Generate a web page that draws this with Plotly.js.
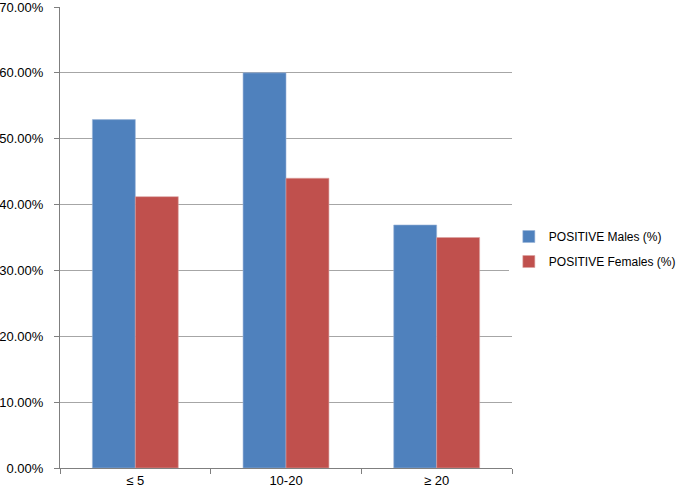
<!DOCTYPE html>
<html>
<head>
<meta charset="utf-8">
<script src="https://cdn.plot.ly/plotly-3.0.1.min.js"></script>
<style>
  html, body { margin: 0; padding: 0; background: #ffffff; }
  #chart { width: 682px; height: 491px; }
</style>
</head>
<body>
<div id="chart"></div>
<script>
const ageGroups = ["≤ 5", "10-20", "≥ 20"];
const malesPositive = [52.9, 60.0, 36.9];
const femalesPositive = [41.2, 44.0, 35.0];
const yTicks = [0, 10, 20, 30, 40, 50, 60, 70];

const traces = [
  {
    x: ageGroups,
    y: malesPositive,
    type: "bar",
    name: "POSITIVE Males (%)",
    legendgroup: "m",
    marker: { color: "#4f81bd", line: { color: "#9bb4d8", width: 0.6 } },
    hoverinfo: "skip",
  },
  {
    x: ageGroups,
    y: femalesPositive,
    type: "bar",
    name: "POSITIVE Females (%)",
    legendgroup: "f",
    marker: { color: "#c0504d", line: { color: "#dba3a1", width: 0.6 } },
    hoverinfo: "skip",
  },
];

const layout = {
  width: 682,
  height: 491,
  paper_bgcolor: "#ffffff",
  plot_bgcolor: "#ffffff",
  font: { family: "Liberation Sans, Arial, sans-serif", size: 13, color: "#000000" },
  margin: { l: 60, r: 170, t: 7, b: 23, autoexpand: false },
  barmode: "group",
  bargap: 0.43,
  bargroupgap: 0,
  showlegend: true,
  legend: {
    x: 0.993,
    y: 0.475,
    xanchor: "left",
    yanchor: "middle",
    traceorder: "grouped",
    tracegroupgap: 6,
    itemwidth: 30,
    font: { size: 12 },
  },
  xaxis: {
    type: "category",
    showline: true,
    linecolor: "#7f7f7f",
    linewidth: 1,
    ticks: "outside",
    tickson: "boundaries",
    ticklen: 5,
    tickcolor: "#7f7f7f",
    showgrid: false,
    zeroline: false,
  },
  yaxis: {
    range: [0, 70],
    tickvals: yTicks,
    ticktext: yTicks.map((v) => v.toFixed(2) + "%"),
    showline: true,
    linecolor: "#7f7f7f",
    linewidth: 1,
    ticks: "outside",
    ticklen: 5,
    tickcolor: "#7f7f7f",
    ticklabelstandoff: 8,
    ticklabeloverflow: "allow",
    showgrid: true,
    gridcolor: "#a6a6a6",
    gridwidth: 1,
    zeroline: false,
  },
};

Plotly.newPlot("chart", traces, layout, { displayModeBar: false, staticPlot: true });
</script>
</body>
</html>
